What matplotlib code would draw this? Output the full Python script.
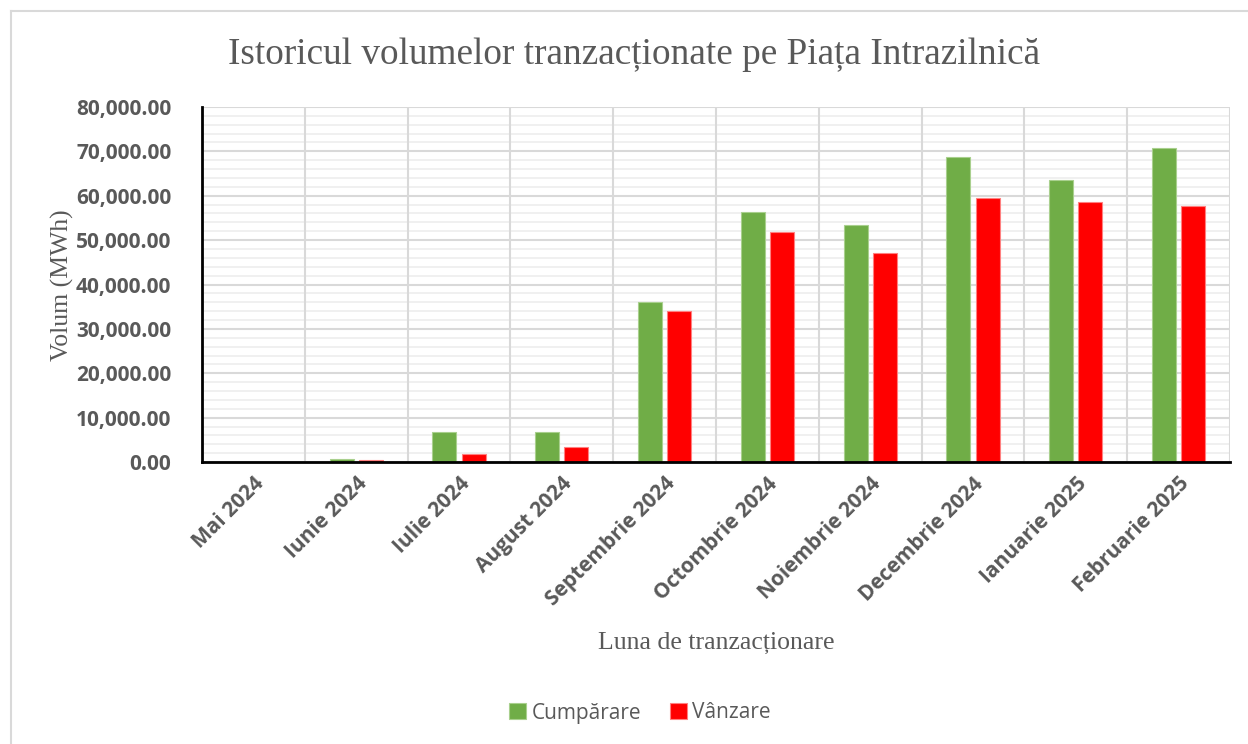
#!/usr/bin/env python3
"""Istoricul volumelor tranzactionate pe Piata Intrazilnica - bar chart."""

import matplotlib
matplotlib.use("Agg")
import matplotlib.pyplot as plt
from matplotlib.lines import Line2D
from matplotlib.ticker import FuncFormatter, MultipleLocator
import numpy as np

# ---------------------------------------------------------------------------
# Data
# ---------------------------------------------------------------------------
MONTHS = ["Mai 2024", "Iunie 2024", "Iulie 2024", "August 2024",
          "Septembrie 2024", "Octombrie 2024", "Noiembrie 2024",
          "Decembrie 2024", "Ianuarie 2025", "Februarie 2025"]
CUMPARARE = [0, 750, 6850, 6800, 36100, 56400, 53500, 68800, 63500, 70850]
VANZARE = [0, 450, 1800, 3400, 34050, 51900, 47150, 59450, 58550, 57800]

# ---------------------------------------------------------------------------
# Style
# ---------------------------------------------------------------------------
GREEN = "#70AD47"
RED = "#FF0000"
TEXT = "#595959"
GRID_MAJOR = "#D9D9D9"
GRID_MINOR = "#F0F0F0"
SERIF = ["Liberation Serif", "DejaVu Serif"]
SANS = ["Open Sans", "DejaVu Sans"]


def main():
    fig = plt.figure(figsize=(12.48, 7.44), dpi=100)
    ax = fig.add_axes([202 / 1248, 1 - 462 / 744, (1230 - 202) / 1248, (462 - 107) / 744])

    x = np.arange(len(MONTHS))
    w = 0.235
    off = 0.142
    ax.bar(x - off, CUMPARARE, width=w, color=GREEN, edgecolor="#A9D08E",
           linewidth=0.8, label="Cumpărare", zorder=3)
    ax.bar(x + off, VANZARE, width=w, color=RED, edgecolor="#FF8080",
           linewidth=0.8, label="Vânzare", zorder=3)

    ax.set_xlim(-0.5, len(MONTHS) - 0.5)
    ax.set_ylim(0, 80000)

    # horizontal grid: major every 10k, minor every 2k
    ax.yaxis.set_major_locator(MultipleLocator(10000))
    ax.yaxis.set_minor_locator(MultipleLocator(2000))
    ax.grid(axis="y", which="minor", color=GRID_MINOR, linewidth=1.4, zorder=0)
    ax.grid(axis="y", which="major", color=GRID_MAJOR, linewidth=1.5, zorder=1)
    # vertical lines between categories
    for b in np.arange(len(MONTHS) + 1) - 0.5:
        ax.axvline(b, color=GRID_MAJOR, linewidth=1.5, zorder=1)
    ax.set_axisbelow(True)

    ax.yaxis.set_major_formatter(FuncFormatter(lambda v, _: f"{v:,.2f}"))
    ax.tick_params(axis="y", which="both", length=0, pad=22, labelcolor=TEXT)
    ax.tick_params(axis="x", length=0, pad=8, labelcolor=TEXT)
    for lab in ax.get_yticklabels():
        lab.set_fontfamily(SANS)
        lab.set_fontweight("bold")
        lab.set_fontsize(15)

    ax.set_xticks(x)
    ax.set_xticklabels(MONTHS, rotation=45, ha="right", rotation_mode="anchor",
                       fontfamily=SANS, fontweight="bold", fontsize=15)

    for s in ("top", "right"):
        ax.spines[s].set_visible(False)
    for s in ("left", "bottom"):
        ax.spines[s].set_color("black")
        ax.spines[s].set_linewidth(2.0)
        ax.spines[s].set_zorder(4)

    # texts
    fig.text(634 / 1248, 1 - 55 / 744,
             "Istoricul volumelor tranzacționate pe Piața Intrazilnică",
             ha="center", va="center", fontfamily=SERIF, fontsize=26.8, color=TEXT)
    fig.text(62 / 1248, 1 - 285 / 744, "Volum (MWh)", rotation=90,
             ha="center", va="center", fontfamily=SERIF, fontsize=18.5, color=TEXT)
    fig.text(716 / 1248, 1 - 643 / 744, "Luna de tranzacționare",
             ha="center", va="center", fontfamily=SERIF, fontsize=18.5, color=TEXT)

    fig.legend(loc="center", bbox_to_anchor=(640 / 1248, 1 - 713 / 744),
               ncol=2, frameon=False, prop={"family": SANS, "size": 15},
               labelcolor=TEXT, handlelength=0.8, handleheight=0.8,
               handletextpad=0.25, columnspacing=1.4)

    # chart frame (top and left visible edges)
    fig.add_artist(Line2D([11 / 1248, 1.0], [1 - 11 / 744] * 2,
                          transform=fig.transFigure, color="#D9D9D9", linewidth=1.5))
    fig.add_artist(Line2D([11 / 1248] * 2, [0.0, 1 - 11 / 744],
                          transform=fig.transFigure, color="#D9D9D9", linewidth=1.5))

    fig.savefig("out.png", dpi=100, facecolor="white")
    plt.close(fig)


if __name__ == "__main__":
    main()
